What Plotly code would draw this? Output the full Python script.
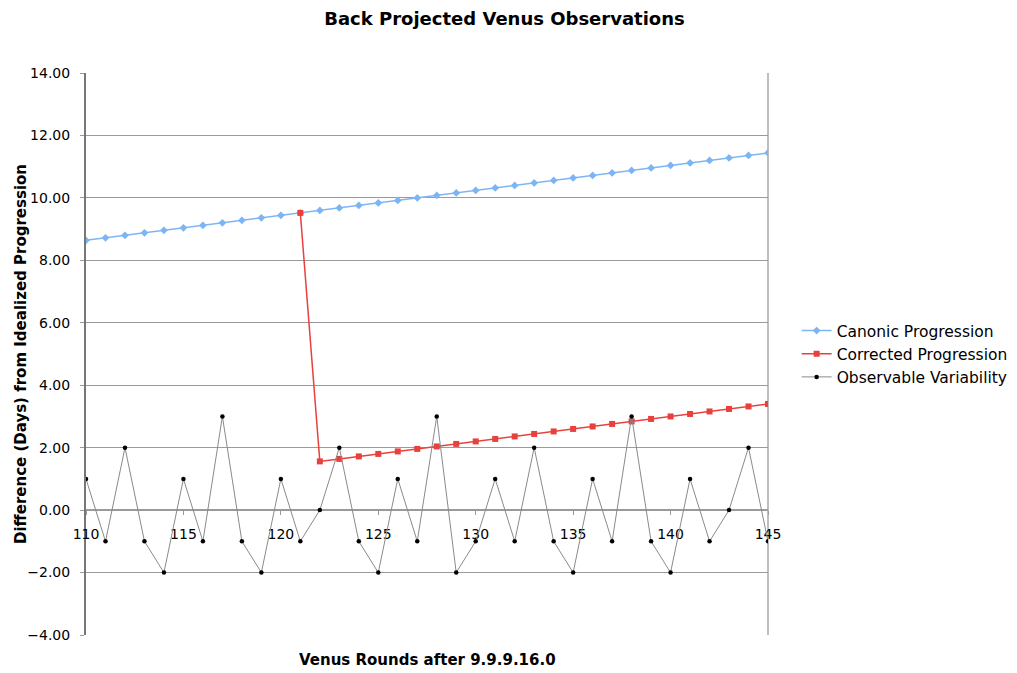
import plotly.graph_objects as go

rounds = list(range(110, 146))

canonic = [8.64, 8.72, 8.80, 8.88, 8.96, 9.04, 9.12, 9.20, 9.28, 9.36, 9.44, 9.52,
           9.60, 9.68, 9.76, 9.84, 9.92, 10.00, 10.08, 10.16, 10.24, 10.32, 10.40, 10.48,
           10.56, 10.64, 10.72, 10.80, 10.88, 10.96, 11.04, 11.12, 11.20, 11.28, 11.36, 11.44]

corrected_rounds = list(range(121, 146))
corrected = [9.52, 1.56, 1.64, 1.72, 1.80, 1.88, 1.96, 2.04, 2.12, 2.20, 2.28, 2.36,
             2.44, 2.52, 2.60, 2.68, 2.76, 2.84, 2.92, 3.00, 3.08, 3.16, 3.24, 3.32, 3.40]

observable = [1, -1, 2, -1, -2, 1, -1, 3, -1, -2, 1, -1, 0, 2, -1, -2, 1, -1,
              3, -2, -1, 1, -1, 2, -1, -2, 1, -1, 3, -1, -2, 1, -1, 0, 2, -1]

title = "Back Projected Venus Observations"
x_title = "Venus Rounds after 9.9.9.16.0"
y_title = "Difference (Days) from Idealized Progression"

FONT = "DejaVu Sans"
W, H = 1017, 665

fig = go.Figure()
fig.add_trace(go.Scatter(
    x=rounds, y=canonic, name="Canonic Progression", mode="lines+markers",
    line=dict(color="#7db5f4", width=1.5),
    marker=dict(symbol="diamond", size=6, color="#7db5f4")))
fig.add_trace(go.Scatter(
    x=corrected_rounds, y=corrected, name="Corrected Progression", mode="lines+markers",
    line=dict(color="#e8403c", width=1.5),
    marker=dict(symbol="square", size=6, color="#e8403c")))
fig.add_trace(go.Scatter(
    x=rounds, y=observable, name="Observable Variability", mode="lines+markers",
    line=dict(color="#8a8a8a", width=1),
    marker=dict(symbol="circle", size=4.5, color="black")))

fig.update_layout(
    width=W, height=H,
    margin=dict(l=78, r=W - 78 - 682, t=65, b=38),
    paper_bgcolor="white", plot_bgcolor="white",
    font=dict(family=FONT, size=13, color="black"),
    title=dict(text="<b>" + title + "</b>", x=496.5 / W, xref="container",
               y=1 - 11 / H, yref="container", xanchor="center", yanchor="middle",
               font=dict(family=FONT, size=18, color="black")),
    showlegend=True,
    legend=dict(x=1.042, y=0.5, xanchor="left", yanchor="middle",
                font=dict(family=FONT, size=15.5, color="black"),
                tracegroupgap=0, bgcolor="rgba(0,0,0,0)"),
    xaxis=dict(range=[110, 145], tick0=110, dtick=5, anchor="free", position=4/18,
               showgrid=False, zeroline=False, showline=True, linecolor="#9a9a9a", linewidth=1.5,
               layer="below traces",
               ticks="outside", ticklen=4, tickcolor="#9a9a9a", ticklabelstandoff=7,
               tickfont=dict(family=FONT, size=14, color="black")),
    yaxis=dict(range=[-4, 14], dtick=2, tickformat=".2f",
               showgrid=True, gridcolor="#9a9a9a", gridwidth=1.2, zeroline=False,
               showline=True, linecolor="#777777", linewidth=2, layer="below traces",
               ticks="outside", ticklen=4, tickcolor="#9a9a9a", ticklabelstandoff=7,
               tickfont=dict(family=FONT, size=14, color="black")),
)

fig.add_shape(type="line", xref="paper", yref="paper", x0=1, x1=1, y0=0, y1=1,
              line=dict(color="#aaaaaa", width=1.5), layer="below")

fig.add_annotation(text="<b>" + y_title + "</b>", xref="paper", yref="paper",
                   x=-0.0953, y=0.5, textangle=-90, showarrow=False,
                   xanchor="center", yanchor="middle",
                   font=dict(family=FONT, size=15, color="black"))

fig.add_annotation(text="<b>" + x_title + "</b>", xref="paper", yref="paper",
                   x=0.5, y=-0.0445, showarrow=False, yanchor="middle",
                   font=dict(family=FONT, size=15, color="black"))

fig.write_html("out.html")
